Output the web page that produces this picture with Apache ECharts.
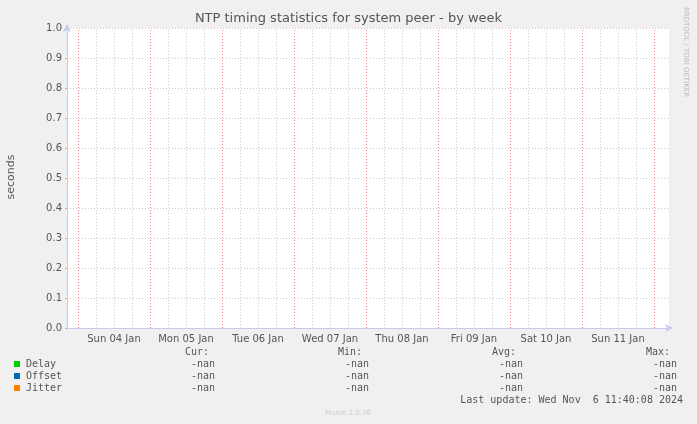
<!DOCTYPE html>
<html lang="en">
<head>
  <meta charset="UTF-8" />
  <title>NTP timing</title>
  <script src="https://cdn.jsdelivr.net/npm/echarts@6/dist/echarts.min.js"></script>
</head>
<body style="margin:0;background:#f0f0f0;overflow:hidden;">
  <div id="panel" style="width:697px;height:424px;"></div>
  <script>
    // hours relative to midnight Sun 04 Jan
    var xStart = -3.667, xEnd = 197;
    var dayLabels = ['Sun 04 Jan', 'Mon 05 Jan', 'Tue 06 Jan', 'Wed 07 Jan', 'Thu 08 Jan', 'Fri 09 Jan', 'Sat 10 Jan', 'Sun 11 Jan'];
    var dayLines = [0, 24, 48, 72, 96, 120, 144, 168, 192];
    var labelPos = [12, 36, 60, 84, 108, 132, 156, 180];
    var seriesNames = ['Delay', 'Offset', 'Jitter'];
    var seriesColors = ['#00cc00', '#0066b3', '#ff8000'];
    var curVals = ['-nan', '-nan', '-nan'];
    var minVals = ['-nan', '-nan', '-nan'];
    var avgVals = ['-nan', '-nan', '-nan'];
    var maxVals = ['-nan', '-nan', '-nan'];

    var minorLines = [];
    for (var h = 0; h <= xEnd; h += 6) if (h % 24 !== 0) minorLines.push(h);

    var mono = 'DejaVu Sans Mono';
    var txtColor = '#555';
    var graphics = [
      { type: 'text', left: 'center', top: 12, style: { text: 'NTP timing statistics for system peer - by week', font: '13px DejaVu Sans', fill: '#555' } },
      { type: 'text', x: 11, y: 177, rotation: Math.PI / 2, style: { text: 'seconds', font: '11px DejaVu Sans', fill: '#555', align: 'center', verticalAlign: 'middle' } },
      { type: 'text', x: 686, y: 52, rotation: -Math.PI / 2, style: { text: 'RRDTOOL / TOBI OETIKER', font: '7px DejaVu Sans', fill: '#bbb', align: 'center', verticalAlign: 'middle' } },
      { type: 'text', x: 348, y: 413, style: { text: 'Munin 2.0.76', font: '7px DejaVu Sans', fill: '#ccc', align: 'center', verticalAlign: 'middle' } },
      { type: 'text', x: 683, y: 400, style: { text: 'Last update: Wed Nov  6 11:40:08 2024', font: '10px ' + mono, fill: txtColor, align: 'right', verticalAlign: 'middle' } }
    ];
    var heads = [['Cur:', 209], ['Min:', 362], ['Avg:', 516], ['Max:', 670]];
    heads.forEach(function (hd) {
      graphics.push({ type: 'text', x: hd[1], y: 352, style: { text: hd[0], font: '10px ' + mono, fill: txtColor, align: 'right', verticalAlign: 'middle' } });
    });
    var cols = [[curVals, 215], [minVals, 369], [avgVals, 523], [maxVals, 677]];
    seriesNames.forEach(function (name, i) {
      var y = 364 + i * 12;
      graphics.push({ type: 'rect', shape: { x: 14, y: y - 3, width: 6, height: 6 }, style: { fill: seriesColors[i] } });
      graphics.push({ type: 'text', x: 26, y: y, style: { text: name, font: '10px ' + mono, fill: txtColor, verticalAlign: 'middle' } });
      cols.forEach(function (c) {
        graphics.push({ type: 'text', x: c[1], y: y, style: { text: c[0][i], font: '10px ' + mono, fill: txtColor, align: 'right', verticalAlign: 'middle' } });
      });
    });

    var axisCol = '#c8c8f0';
    var myChart = echarts.init(document.getElementById('panel'));
    var option = {
      backgroundColor: '#f0f0f0',
      animation: false,
      grid: { left: 67, right: 28, top: 28, bottom: 96, backgroundColor: '#ffffff', show: true, borderWidth: 0 },
      xAxis: {
        type: 'value', min: xStart, max: xEnd,
        axisLine: { onZero: false, lineStyle: { color: axisCol }, symbol: ['none', 'arrow'], symbolSize: [6, 8], symbolOffset: [0, 4] },
        axisTick: { show: false },
        splitLine: { show: false },
        axisLabel: {
          customValues: labelPos, color: '#555', fontSize: 10, fontFamily: 'DejaVu Sans', margin: 6,
          formatter: function (v) { return dayLabels[labelPos.indexOf(v)]; }
        }
      },
      yAxis: {
        type: 'value', min: 0, max: 1, interval: 0.1,
        axisLine: { show: true, onZero: false, lineStyle: { color: axisCol }, symbol: ['none', 'arrow'], symbolSize: [6, 8], symbolOffset: [0, 4] },
        axisTick: { show: true, length: 2, lineStyle: { color: '#e0a0a0' } },
        splitLine: { lineStyle: { color: '#d8c4c4', type: [1, 2] } },
        axisLabel: { color: '#555', fontSize: 10, fontFamily: 'DejaVu Sans', margin: 5, formatter: function (v) { return v.toFixed(1); } }
      },
      series: [
        {
          type: 'line', data: [], silent: true,
          markLine: {
            symbol: 'none', silent: true, label: { show: false },
            lineStyle: { color: '#cccccc', type: [1, 2], width: 1 },
            data: minorLines.map(function (v) { return { xAxis: v }; })
          }
        },
        {
          type: 'line', data: [], silent: true,
          markLine: {
            symbol: 'none', silent: true, label: { show: false },
            lineStyle: { color: '#f08080', type: [1, 2], width: 1 },
            data: dayLines.map(function (v) { return { xAxis: v }; })
          }
        }
      ],
      graphic: graphics
    };
    myChart.setOption(option);
  </script>
</body>
</html>
